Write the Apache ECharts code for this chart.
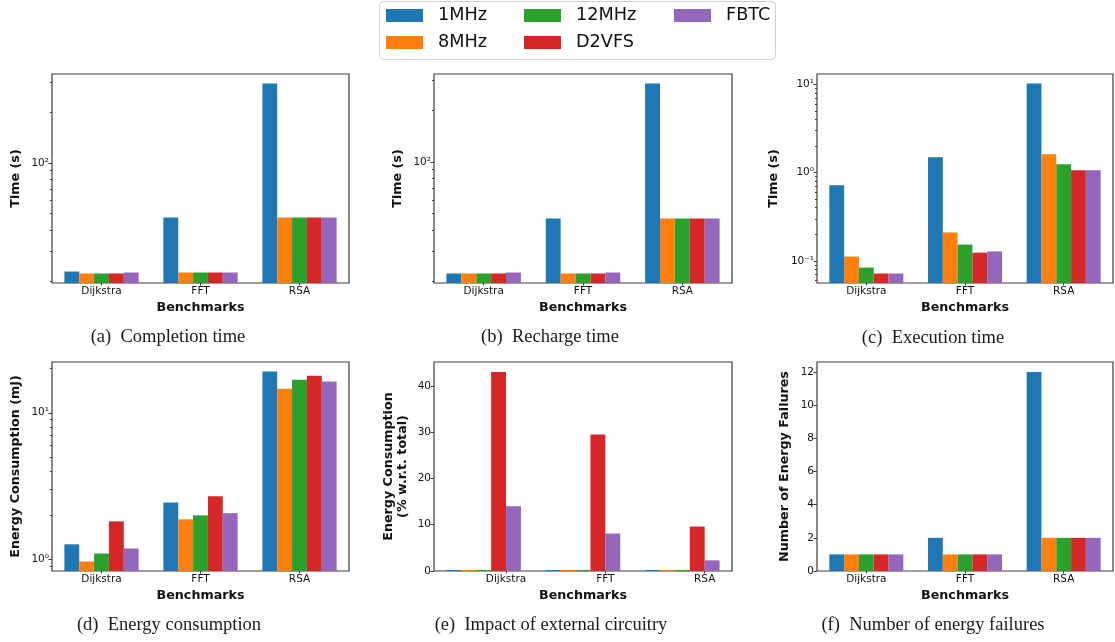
<!DOCTYPE html>
<html>
<head>
<meta charset="utf-8">
<script src="https://cdn.jsdelivr.net/npm/echarts@6/dist/echarts.min.js"></script>
<style>
  html, body { margin: 0; padding: 0; background: #fff; }
  #chart { width: 1115px; height: 642px; }
</style>
</head>
<body>
<div id="chart"></div>
<script>
// benchmarks on the x axis, one bar per configuration
const categories = ['Dijkstra', 'FFT', 'RSA']
const configs = ['1MHz', '8MHz', '12MHz', 'D2VFS', 'FBTC']
const colors = ['#1f77b4', '#ff7f0e', '#2ca02c', '#d62728', '#9467bd']

// (a) completion time (s)
const completion1MHz = [22.7, 47.4, 295]
const completion8MHz = [22.1, 22.4, 47.4]
const completion12MHz = [22.1, 22.4, 47.4]
const completionD2VFS = [22.1, 22.4, 47.4]
const completionFBTC = [22.4, 22.4, 47.4]

// (b) recharge time (s)
const recharge1MHz = [22.2, 46.6, 288]
const recharge8MHz = [22.2, 22.2, 46.6]
const recharge12MHz = [22.2, 22.2, 46.6]
const rechargeD2VFS = [22.2, 22.2, 46.6]
const rechargeFBTC = [22.5, 22.5, 46.6]

// (c) execution time (s)
const exec1MHz = [0.717, 1.49, 10.2]
const exec8MHz = [0.112, 0.21, 1.61]
const exec12MHz = [0.084, 0.153, 1.24]
const execD2VFS = [0.072, 0.124, 1.06]
const execFBTC = [0.072, 0.128, 1.06]

// (d) energy consumption (mJ)
const energy1MHz = [1.27, 2.45, 19.1]
const energy8MHz = [0.97, 1.88, 14.6]
const energy12MHz = [1.10, 2.0, 16.8]
const energyD2VFS = [1.82, 2.7, 17.9]
const energyFBTC = [1.19, 2.07, 16.3]

// (e) external circuitry share (% of total)
const ext1MHz = [0, 0, 0]
const ext8MHz = [0, 0, 0]
const ext12MHz = [0, 0, 0]
const extD2VFS = [43.0, 29.5, 9.6]
const extFBTC = [14.0, 8.1, 2.3]

// (f) number of energy failures
const fail1MHz = [1, 2, 12]
const fail8MHz = [1, 1, 2]
const fail12MHz = [1, 1, 2]
const failD2VFS = [1, 1, 2]
const failFBTC = [1, 1, 2]

// tick labels of the linear panels
const extTicks = [0, 10, 20, 30, 40]
const failTicks = [0, 2, 4, 6, 8, 10, 12]

const sup = { '-1': '⁻¹', '0': '⁰', '1': '¹', '2': '²', '3': '³' }

// matplotlib style autoscale: 5% margin in log space
function logRange (lists) {
  const all = [].concat(...lists).filter(v => v > 0)
  const lo = Math.log10(Math.min(...all))
  const hi = Math.log10(Math.max(...all))
  const m = (hi - lo) * 0.05
  return [Math.pow(10, lo - m), Math.pow(10, hi + m)]
}
function logTicks (range, minor) {
  const out = []
  const e0 = Math.floor(Math.log10(range[0]))
  const e1 = Math.ceil(Math.log10(range[1]))
  for (let e = e0; e <= e1; e++) {
    const ks = minor ? [2, 3, 4, 5, 6, 7, 8, 9] : [1]
    ks.forEach(k => {
      const v = parseFloat((k * Math.pow(10, e)).toPrecision(6))
      if (v >= range[0] && v <= range[1]) out.push(v)
    })
  }
  return out
}
function linMax (lists) {
  return Math.max(...[].concat(...lists)) * 1.05
}

const panels = [
  { box: [52, 74, 297, 209], log: true, data: [completion1MHz, completion8MHz, completion12MHz, completionD2VFS, completionFBTC], yName: 'Time (s)', gap: 29, caption: '(a)  Completion time', cap: [168, 337] },
  { box: [434, 74, 298, 209], log: true, data: [recharge1MHz, recharge8MHz, recharge12MHz, rechargeD2VFS, rechargeFBTC], yName: 'Time (s)', gap: 29, caption: '(b)  Recharge time', cap: [550, 337] },
  { box: [817, 74, 296, 209], log: true, data: [exec1MHz, exec8MHz, exec12MHz, execD2VFS, execFBTC], yName: 'Time (s)', gap: 36, caption: '(c)  Execution time', cap: [933, 338] },
  { box: [52, 362, 297, 209], log: true, data: [energy1MHz, energy8MHz, energy12MHz, energyD2VFS, energyFBTC], yName: 'Energy Consumption (mJ)', gap: 29, caption: '(d)  Energy consumption', cap: [169, 625] },
  { box: [434, 362, 298, 209], log: false, ticks: extTicks, shift: 0.225, minH: 1, data: [ext1MHz, ext8MHz, ext12MHz, extD2VFS, extFBTC], yName: 'Energy Consumption\n(% w.r.t. total)', gap: 24, caption: '(e)  Impact of external circuitry', cap: [551, 625] },
  { box: [817, 362, 296, 209], log: false, ticks: failTicks, data: [fail1MHz, fail8MHz, fail12MHz, failD2VFS, failFBTC], yName: 'Number of Energy Failures', gap: 25, caption: '(f)  Number of energy failures', cap: [933, 625] }
]

const ink = '#111'
const spine = '#3c3c3c'
const tickFont = { fontSize: 10.5, color: ink, fontFamily: 'DejaVu Sans' }
const nameFont = { fontSize: 12.7, fontWeight: 'bold', color: ink, fontFamily: 'DejaVu Sans', lineHeight: 14 }
const noLine = { show: false, onZero: false }

const grid = []
const xAxis = []
const yAxis = []
const series = []
const graphic = [
  { type: 'rect', z: -10, shape: { x: 379.5, y: 1.5, width: 396, height: 58, r: 4 }, style: { fill: '#fff', stroke: '#cfcfcf', lineWidth: 1 } }
]

panels.forEach((p, i) => {
  grid.push({ left: p.box[0], top: p.box[1], width: p.box[2], height: p.box[3], show: true, borderColor: spine, borderWidth: 1.2, backgroundColor: 'transparent' })

  const xi = xAxis.length
  xAxis.push({
    type: 'category', gridIndex: i, position: 'bottom', data: categories,
    name: 'Benchmarks', nameLocation: 'middle', nameGap: 18, nameTextStyle: nameFont,
    axisLine: noLine,
    axisTick: { show: !p.shift, alignWithLabel: true, length: 2.5, lineStyle: { color: spine } },
    axisLabel: Object.assign({ show: !p.shift, margin: 3 }, tickFont)
  })
  if (p.shift) {
    // tick labels sit between the last two bars of each group
    const pos = categories.map((c, k) => k + p.shift)
    xAxis.push({
      type: 'value', gridIndex: i, position: 'bottom', min: -0.5, max: 2.5,
      axisLine: noLine, splitLine: { show: false },
      axisTick: { show: true, customValues: pos, length: 2.5, lineStyle: { color: spine } },
      axisLabel: Object.assign({ customValues: pos, margin: 3, formatter: v => categories[Math.round(v - p.shift)] }, tickFont)
    })
  }

  const yi = yAxis.length
  const yBase = {
    gridIndex: i, position: 'left', name: p.yName, nameLocation: 'middle', nameGap: p.gap, nameTextStyle: nameFont,
    axisLine: noLine, splitLine: { show: false }
  }
  if (p.log) {
    const r = logRange(p.data)
    const major = logTicks(r, false)
    yAxis.push(Object.assign({}, yBase, {
      type: 'log', logBase: 10, min: r[0], max: r[1], startValue: r[0],
      axisTick: { show: true, customValues: major, length: 3.5, lineStyle: { color: spine } },
      axisLabel: Object.assign({ customValues: major, margin: 3, formatter: v => '10' + sup[Math.round(Math.log10(v))] }, tickFont)
    }))
    // minor ticks on the same scale
    yAxis.push({
      type: 'log', logBase: 10, gridIndex: i, position: 'left', offset: 0, min: r[0], max: r[1],
      axisLine: noLine, splitLine: { show: false }, axisLabel: { show: false },
      axisTick: { show: true, customValues: logTicks(r, true), length: 2, lineStyle: { color: spine } }
    })
  } else {
    yAxis.push(Object.assign({}, yBase, {
      type: 'value', min: 0, max: linMax(p.data),
      axisTick: { show: true, customValues: p.ticks, length: 3.5, lineStyle: { color: spine } },
      axisLabel: Object.assign({ customValues: p.ticks, margin: 3 }, tickFont)
    }))
  }

  p.data.forEach((vals, k) => {
    series.push({
      type: 'bar', name: configs[k], xAxisIndex: xi, yAxisIndex: yi, data: vals,
      barWidth: '15%', barGap: '0%', barMinHeight: p.minH || 0,
      itemStyle: { color: colors[k] }, emphasis: { disabled: true }
    })
  })

  graphic.push({
    type: 'text', x: p.cap[0], y: p.cap[1],
    style: { text: p.caption, fontSize: 18.5, fontFamily: 'Liberation Serif', fill: '#1a1a1a', align: 'center', verticalAlign: 'middle' }
  })
})

const legendBase = {
  orient: 'vertical', top: 6.6, padding: 0, itemWidth: 37, itemHeight: 13, itemGap: 8.8,
  icon: 'rect', selectedMode: false,
  textStyle: { fontSize: 17.7, color: ink, fontFamily: 'DejaVu Sans', padding: [0, 0, 0, 10] }
}

let myChart = echarts.init(document.getElementById('chart'))
myChart.setOption({
  animation: false,
  textStyle: { fontFamily: 'DejaVu Sans' },
  legend: [
    Object.assign({ left: 386, data: ['1MHz', '8MHz'] }, legendBase),
    Object.assign({ left: 524, data: ['12MHz', 'D2VFS'] }, legendBase),
    Object.assign({ left: 674, data: ['FBTC'] }, legendBase)
  ],
  grid: grid,
  xAxis: xAxis,
  yAxis: yAxis,
  series: series,
  graphic: graphic
})
</script>
</body>
</html>
